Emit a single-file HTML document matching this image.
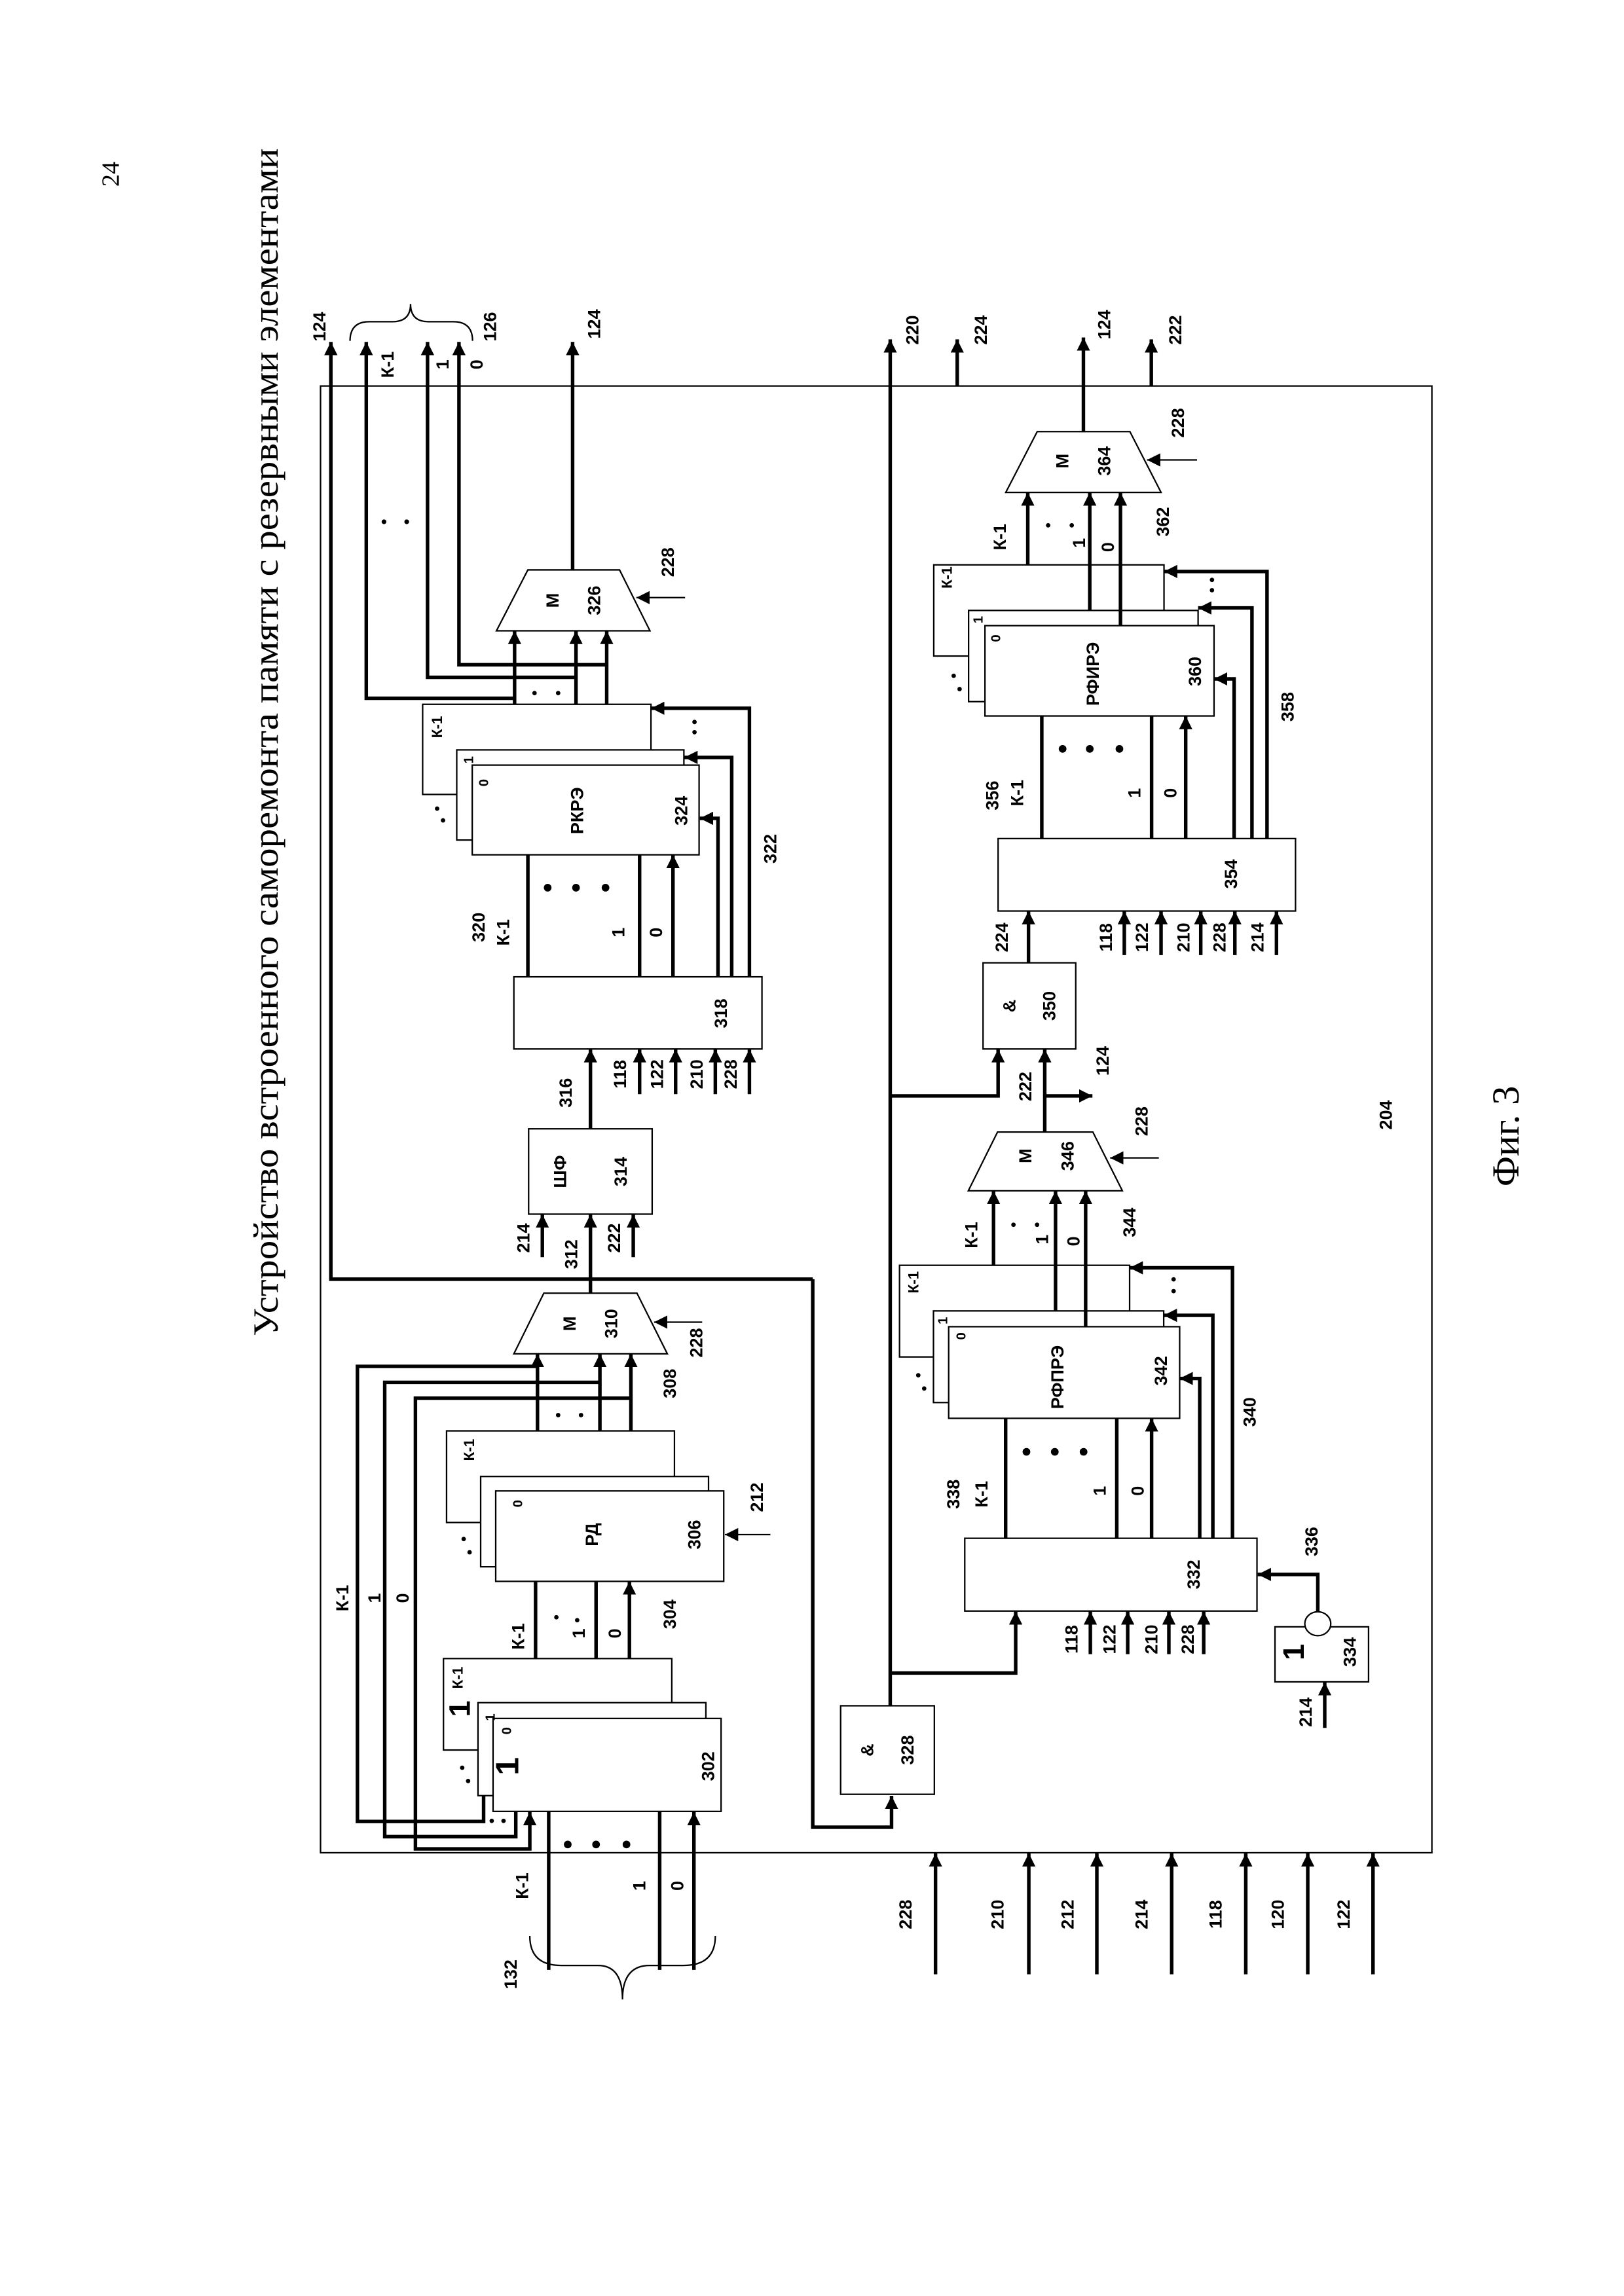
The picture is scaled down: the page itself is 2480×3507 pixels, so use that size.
<!DOCTYPE html>
<html><head><meta charset="utf-8"><style>
html,body{margin:0;padding:0;background:#fff}
svg{display:block}
text{font-family:"Liberation Sans",sans-serif;font-weight:bold;font-size:12px;text-anchor:middle;dominant-baseline:central;fill:#000}
.s{font-family:"Liberation Serif",serif;font-weight:normal}
.th{stroke:#000;stroke-width:2.4;fill:none}
.tn{stroke:#000;stroke-width:1;fill:none}
.bx{stroke:#000;stroke-width:1;fill:#fff}
</style></head><body>
<svg width="2480" height="3507" viewBox="0 0 1100 1556" xmlns="http://www.w3.org/2000/svg">
<defs>
<marker id="a" markerUnits="userSpaceOnUse" viewBox="0 0 10 10" markerWidth="9" markerHeight="9" refX="10" refY="5" orient="auto"><path d="M0,0 L10,5 L0,10z" fill="#000"/></marker>
</defs>
<rect width="1100" height="1556" fill="#fff"/>

<!-- page text -->
<text class="s" transform="translate(75,118) rotate(-90)" style="font-size:17px">24</text>
<text class="s" transform="translate(180,503) rotate(-90)" style="font-size:24px" textLength="805" lengthAdjust="spacingAndGlyphs">Устройство встроенного саморемонта памяти с резервными элементами</text>
<text class="s" transform="translate(1020,770) rotate(-90)" style="font-size:26px">Фиг. 3</text>

<!-- outer box -->
<rect x="217" y="261.6" width="753" height="994" class="tn"/>

<!-- ===== upper section ===== -->
<path class="th" d="M550.5,866.9 H224 V231.7" marker-end="url(#a)"/>
<path class="th" d="M550.5,866.9 V1238.3 H603.9 V1217" marker-end="url(#a)"/>

<path class="tn" d="M237,231 Q237,218 250,218 L266,218 Q278,218 278,206 Q278,218 290,218 L307,218 Q320,218 320,231"/>

<path class="th" d="M348.5,473.2 H248 V231.7" marker-end="url(#a)"/>
<path class="th" d="M390.1,459 H289.5 V231.7" marker-end="url(#a)"/>
<path class="th" d="M410.9,450.5 H310.8 V231.7" marker-end="url(#a)"/>
<path class="th" d="M348.5,477.3 V427.5" marker-end="url(#a)"/>
<path class="th" d="M390.1,508.2 V427.5" marker-end="url(#a)"/>
<path class="th" d="M410.9,518.5 V427.5" marker-end="url(#a)"/>
<circle cx="260" cy="353.6" r="1.6"/><circle cx="275.4" cy="353.6" r="1.6"/>
<circle cx="362" cy="469.7" r="1.5"/><circle cx="378" cy="469.7" r="1.5"/>

<polygon points="357.5,386.2 419.6,386.2 440.2,427.5 336.2,427.5" class="bx"/>
<path class="th" d="M387.8,386.2 V231.7" marker-end="url(#a)"/>
<path class="tn" d="M464,405 H431" marker-end="url(#a)"/>

<rect x="286.2" y="477.3" width="154.7" height="61.1" class="bx"/>
<rect x="309.3" y="508.2" width="153.9" height="61.1" class="bx"/>
<rect x="319.8" y="518.5" width="153.7" height="60.8" class="bx"/>
<path class="th" d="M507.6,662 V480 H441" marker-end="url(#a)"/>
<path class="th" d="M495.6,662 V513.3 H463.5" marker-end="url(#a)"/>
<path class="th" d="M486.3,662 V554.6 H474" marker-end="url(#a)"/>
<circle cx="470.4" cy="489.3" r="1.5"/><circle cx="470.4" cy="496.2" r="1.5"/>
<circle cx="296" cy="548" r="1.5"/><circle cx="300" cy="556" r="1.5"/>
<path class="th" d="M357.5,662 V579.3"/>
<path class="th" d="M433.2,662 V579.3"/>
<path class="th" d="M455.8,662 V579.3" marker-end="url(#a)"/>
<circle cx="370.9" cy="601.6" r="2.6"/><circle cx="390.1" cy="601.6" r="2.6"/><circle cx="410.1" cy="601.6" r="2.6"/>

<rect x="348" y="662" width="168.1" height="48.9" class="bx"/>
<path class="th" d="M433.2,741.5 V711" marker-end="url(#a)"/>
<path class="th" d="M457.6,741.5 V711" marker-end="url(#a)"/>
<path class="th" d="M484.5,741.5 V711" marker-end="url(#a)"/>
<path class="th" d="M507.6,741.5 V711" marker-end="url(#a)"/>
<path class="th" d="M399.9,765 V711" marker-end="url(#a)"/>

<rect x="358" y="765" width="83.7" height="57.8" class="bx"/>
<path class="th" d="M367.3,852 V823" marker-end="url(#a)"/>
<path class="th" d="M399.9,876.4 V823" marker-end="url(#a)"/>
<path class="th" d="M428.9,852 V823" marker-end="url(#a)"/>

<polygon points="368.3,876.4 431.4,876.4 452,917.5 348,917.5" class="bx"/>
<path class="tn" d="M475.6,896 H443" marker-end="url(#a)"/>
<path class="th" d="M364,969.7 V917.5" marker-end="url(#a)"/>
<path class="th" d="M406.3,1000.6 V917.5" marker-end="url(#a)"/>
<path class="th" d="M427.3,1010.4 V917.5" marker-end="url(#a)"/>
<circle cx="378" cy="959" r="1.5"/><circle cx="393.5" cy="959" r="1.5"/>
<path class="th" d="M364,926 H242 V1234.4 H327.5 V1217"/>
<path class="th" d="M406.3,936.8 H260.5 V1244.7 H349.3 V1228"/>
<path class="th" d="M427.3,947.5 H281.3 V1253 H358.8 V1228" marker-end="url(#a)"/>

<rect x="302.4" y="969.7" width="154.4" height="62.1" class="bx"/>
<rect x="325.5" y="1000.6" width="154.4" height="61.2" class="bx"/>
<rect x="335.7" y="1010.4" width="154.5" height="61.3" class="bx"/>
<path class="tn" d="M521.8,1040 H491" marker-end="url(#a)"/>
<circle cx="314" cy="1043" r="1.5"/><circle cx="318" cy="1052" r="1.5"/>
<path class="th" d="M362.7,1124 V1071.7"/>
<path class="th" d="M403.7,1154 V1071.7"/>
<path class="th" d="M426.3,1164.6 V1071.7" marker-end="url(#a)"/>
<circle cx="376.8" cy="1096" r="1.5"/><circle cx="390.9" cy="1098" r="1.5"/>

<rect x="300.3" y="1124" width="154.7" height="62" class="bx"/>
<rect x="323.7" y="1153.9" width="154.4" height="63" class="bx"/>
<rect x="333.9" y="1164.6" width="154.5" height="63" class="bx"/>
<circle cx="313" cy="1198" r="1.5"/><circle cx="317" cy="1207" r="1.5"/>
<circle cx="333" cy="1234" r="1.5"/><circle cx="341" cy="1234" r="1.5"/>
<path class="th" d="M371.6,1335 V1227.6"/>
<path class="th" d="M446.8,1335 V1227.6"/>
<path class="th" d="M470,1335 V1228" marker-end="url(#a)"/>
<circle cx="384.5" cy="1250" r="2.6"/><circle cx="403.7" cy="1250" r="2.6"/><circle cx="424.3" cy="1250" r="2.6"/>
<path class="tn" d="M358.8,1312 Q358.8,1332 380,1332 L405,1332 Q421.6,1332 421.6,1355 Q421.6,1332 440,1332 L463,1332 Q484.5,1332 484.5,1312"/>

<rect x="569.4" y="1156" width="63.5" height="60" class="bx"/>

<!-- ===== lower section ===== -->
<path class="th" d="M603,1156 V230" marker-end="url(#a)"/>
<path class="th" d="M603,1133.8 H688 V1092" marker-end="url(#a)"/>
<path class="th" d="M603,742.7 H676.1 V711" marker-end="url(#a)"/>
<path class="th" d="M648.4,261.6 V230" marker-end="url(#a)"/>
<path class="th" d="M779.9,261.6 V230" marker-end="url(#a)"/>

<path class="th" d="M633.7,1338 V1256" marker-end="url(#a)"/>
<path class="th" d="M696.9,1338 V1256" marker-end="url(#a)"/>
<path class="th" d="M743,1338 V1256" marker-end="url(#a)"/>
<path class="th" d="M793.7,1338 V1256" marker-end="url(#a)"/>
<path class="th" d="M843.9,1338 V1256" marker-end="url(#a)"/>
<path class="th" d="M885.9,1338 V1256" marker-end="url(#a)"/>
<path class="th" d="M930.1,1338 V1256" marker-end="url(#a)"/>

<rect x="653.5" y="1042.5" width="198" height="49.3" class="bx"/>
<path class="th" d="M738.6,1121 V1092" marker-end="url(#a)"/>
<path class="th" d="M763.9,1121 V1092" marker-end="url(#a)"/>
<path class="th" d="M791.8,1121 V1092" marker-end="url(#a)"/>
<path class="th" d="M815.4,1121 V1092" marker-end="url(#a)"/>
<rect x="863.7" y="1102.5" width="63.4" height="37.3" class="bx"/>
<ellipse cx="892.7" cy="1100.4" rx="8.8" ry="8.1" class="bx"/>
<path class="th" d="M892.7,1092.3 V1067 H852" marker-end="url(#a)"/>
<path class="th" d="M897.4,1171 V1140" marker-end="url(#a)"/>

<rect x="609.3" y="857.5" width="155.9" height="62.1" class="bx"/>
<rect x="632.3" y="888.4" width="156" height="62.1" class="bx"/>
<rect x="642.6" y="899.1" width="156.5" height="62.1" class="bx"/>
<circle cx="622" cy="932" r="1.5"/><circle cx="626" cy="941" r="1.5"/>
<path class="th" d="M681.2,1042.5 V961.2"/>
<path class="th" d="M756.5,1042.5 V961.2"/>
<path class="th" d="M780.1,1042.5 V961.2" marker-end="url(#a)"/>
<circle cx="695.3" cy="983.9" r="2.6"/><circle cx="714.5" cy="983.9" r="2.6"/><circle cx="734" cy="983.9" r="2.6"/>
<path class="th" d="M812.7,1042.5 V934.2 H799.1" marker-end="url(#a)"/>
<path class="th" d="M821.6,1042.5 V891.4 H788.3" marker-end="url(#a)"/>
<path class="th" d="M834.9,1042.5 V859.2 H765.2" marker-end="url(#a)"/>
<circle cx="795" cy="867" r="1.5"/><circle cx="795" cy="875" r="1.5"/>

<polygon points="675.7,767.2 740.3,767.2 760.3,807 655.9,807" class="bx"/>
<path class="tn" d="M785,784.7 H752" marker-end="url(#a)"/>
<path class="th" d="M673,857.5 V807" marker-end="url(#a)"/>
<path class="th" d="M715,888.4 V807" marker-end="url(#a)"/>
<path class="th" d="M735.4,899.1 V807" marker-end="url(#a)"/>
<circle cx="686.5" cy="830" r="1.5"/><circle cx="702.5" cy="830" r="1.5"/>
<path class="th" d="M707.7,767.2 V711" marker-end="url(#a)"/>
<path class="th" d="M707.7,742.7 H740" marker-end="url(#a)"/>

<rect x="665.9" y="652.5" width="62.8" height="58.4" class="bx"/>
<path class="th" d="M696.7,652.5 V617.4" marker-end="url(#a)"/>

<rect x="676.1" y="568.3" width="201.5" height="49.1" class="bx"/>
<path class="th" d="M761.6,647.3 V617.4" marker-end="url(#a)"/>
<path class="th" d="M786.5,647.3 V617.4" marker-end="url(#a)"/>
<path class="th" d="M813.4,647.3 V617.4" marker-end="url(#a)"/>
<path class="th" d="M836.5,647.3 V617.4" marker-end="url(#a)"/>
<path class="th" d="M864.7,647.3 V617.4" marker-end="url(#a)"/>

<rect x="632.5" y="382.8" width="156" height="61.8" class="bx"/>
<rect x="656.1" y="413.7" width="155.5" height="61.8" class="bx"/>
<rect x="667.2" y="424" width="155.2" height="61.2" class="bx"/>
<circle cx="646" cy="458" r="1.5"/><circle cx="650" cy="467" r="1.5"/>
<path class="th" d="M705.7,568.3 V485.2"/>
<path class="th" d="M780.1,568.3 V485.2"/>
<path class="th" d="M803.2,568.3 V485.2" marker-end="url(#a)"/>
<circle cx="719.8" cy="507.5" r="2.6"/><circle cx="738.2" cy="507.5" r="2.6"/><circle cx="758.3" cy="507.5" r="2.6"/>
<path class="th" d="M836,568.3 V460.1 H822.4" marker-end="url(#a)"/>
<path class="th" d="M848.1,568.3 V412 H811.6" marker-end="url(#a)"/>
<path class="th" d="M858.3,568.3 V387.3 H788.5" marker-end="url(#a)"/>
<circle cx="821" cy="393" r="1.5"/><circle cx="821" cy="400" r="1.5"/>

<polygon points="702.6,292.5 765.4,292.5 786.5,333.7 681.3,333.7" class="bx"/>
<path class="tn" d="M810.9,311.7 H777" marker-end="url(#a)"/>
<path class="th" d="M696.2,382.8 V333.7" marker-end="url(#a)"/>
<path class="th" d="M738.2,413.7 V333.7" marker-end="url(#a)"/>
<path class="th" d="M759,424 V333.7" marker-end="url(#a)"/>
<circle cx="710" cy="356" r="1.5"/><circle cx="726" cy="356" r="1.5"/>
<path class="th" d="M733.9,292.5 V228.7" marker-end="url(#a)"/>

<!-- ===== labels ===== -->
<g>
<text transform="translate(216.4,221.4) rotate(-90)">124</text>
<text transform="translate(262.6,247.1) rotate(-90)">К-1</text>
<text transform="translate(299.8,247) rotate(-90)">1</text>
<text transform="translate(322.9,247) rotate(-90)">0</text>
<text transform="translate(331.9,221.4) rotate(-90)">126</text>
<text transform="translate(402.4,219.6) rotate(-90)">124</text>
<text transform="translate(374.2,406.9) rotate(-90)">М</text>
<text transform="translate(402.4,406.9) rotate(-90)">326</text>
<text transform="translate(452.5,381) rotate(-90)">228</text>
<text transform="translate(296,492.7) rotate(-90)" style="font-size:10px">К-1</text>
<text transform="translate(317.8,515) rotate(-90)" style="font-size:9px">1</text>
<text transform="translate(328,530.5) rotate(-90)" style="font-size:9px">0</text>
<text transform="translate(390.9,549.4) rotate(-90)">РКРЭ</text>
<text transform="translate(461.5,549.4) rotate(-90)">324</text>
<text transform="translate(521.8,575.2) rotate(-90)">322</text>
<text transform="translate(324.2,628.4) rotate(-90)">320</text>
<text transform="translate(340.8,631.9) rotate(-90)">К-1</text>
<text transform="translate(419,631.9) rotate(-90)">1</text>
<text transform="translate(444.3,631.9) rotate(-90)">0</text>
<text transform="translate(488.4,686.8) rotate(-90)">318</text>
<text transform="translate(383.2,740.6) rotate(-90)">316</text>
<text transform="translate(420,728) rotate(-90)">118</text>
<text transform="translate(445,728) rotate(-90)">122</text>
<text transform="translate(472,728) rotate(-90)">210</text>
<text transform="translate(495,728) rotate(-90)">228</text>
<text transform="translate(379.3,794) rotate(-90)">ШФ</text>
<text transform="translate(420.4,794) rotate(-90)">314</text>
<text transform="translate(354.5,839) rotate(-90)">214</text>
<text transform="translate(387,850) rotate(-90)">312</text>
<text transform="translate(416,839) rotate(-90)">222</text>
<text transform="translate(385.8,897) rotate(-90)">М</text>
<text transform="translate(414,897) rotate(-90)">310</text>
<text transform="translate(471.7,910) rotate(-90)">228</text>
<text transform="translate(453.8,937.6) rotate(-90)">308</text>
<text transform="translate(231.8,1083) rotate(-90)">К-1</text>
<text transform="translate(253.6,1083) rotate(-90)">1</text>
<text transform="translate(272.8,1083) rotate(-90)">0</text>
<text transform="translate(317.8,982.6) rotate(-90)" style="font-size:10px">К-1</text>
<text transform="translate(351.1,1019) rotate(-90)" style="font-size:9px">0</text>
<text transform="translate(401,1040) rotate(-90)">РД</text>
<text transform="translate(470.4,1040) rotate(-90)">306</text>
<text transform="translate(512.8,1014.7) rotate(-90)">212</text>
<text transform="translate(351.1,1109) rotate(-90)">К-1</text>
<text transform="translate(392,1107) rotate(-90)">1</text>
<text transform="translate(416.5,1107) rotate(-90)">0</text>
<text transform="translate(453.8,1094) rotate(-90)">304</text>
<text transform="translate(310,1137) rotate(-90)" style="font-size:10px">К-1</text>
<text transform="translate(311.3,1158) rotate(-90)" style="font-size:20px">1</text>
<text transform="translate(332.4,1163.8) rotate(-90)" style="font-size:9px">1</text>
<text transform="translate(343.5,1173) rotate(-90)" style="font-size:9px">0</text>
<text transform="translate(343.5,1197) rotate(-90)" style="font-size:22px">1</text>
<text transform="translate(479.6,1197) rotate(-90)">302</text>
<text transform="translate(353.7,1278) rotate(-90)">К-1</text>
<text transform="translate(433.2,1278) rotate(-90)">1</text>
<text transform="translate(458.8,1278) rotate(-90)">0</text>
<text transform="translate(346,1338) rotate(-90)">132</text>
<text transform="translate(587.6,1186) rotate(-90)">&amp;</text>
<text transform="translate(614.7,1186) rotate(-90)">328</text>

<text transform="translate(618,223.6) rotate(-90)">220</text>
<text transform="translate(664.5,223.6) rotate(-90)">224</text>
<text transform="translate(748,220) rotate(-90)">124</text>
<text transform="translate(796.2,223.6) rotate(-90)">222</text>
<text transform="translate(719.8,312.4) rotate(-90)">М</text>
<text transform="translate(748,312.4) rotate(-90)">364</text>
<text transform="translate(798,286.6) rotate(-90)">228</text>
<text transform="translate(677.4,363.9) rotate(-90)">К-1</text>
<text transform="translate(731,368) rotate(-90)">1</text>
<text transform="translate(750.6,370.8) rotate(-90)">0</text>
<text transform="translate(787.8,353.6) rotate(-90)">362</text>
<text transform="translate(641.5,391.4) rotate(-90)" style="font-size:10px">К-1</text>
<text transform="translate(663,420) rotate(-90)" style="font-size:9px">1</text>
<text transform="translate(674.9,432.6) rotate(-90)" style="font-size:9px">0</text>
<text transform="translate(740.3,456.7) rotate(-90)">РФИРЭ</text>
<text transform="translate(809.6,455) rotate(-90)">360</text>
<text transform="translate(872.4,479) rotate(-90)">358</text>
<text transform="translate(672.3,539.1) rotate(-90)">356</text>
<text transform="translate(689,537.4) rotate(-90)">К-1</text>
<text transform="translate(768.5,537.4) rotate(-90)">1</text>
<text transform="translate(792.9,537.4) rotate(-90)">0</text>
<text transform="translate(834,592.3) rotate(-90)">354</text>
<text transform="translate(678.7,635.3) rotate(-90)">224</text>
<text transform="translate(749.3,635.3) rotate(-90)">118</text>
<text transform="translate(773.7,635.3) rotate(-90)">122</text>
<text transform="translate(801.9,635.3) rotate(-90)">210</text>
<text transform="translate(826.3,635.3) rotate(-90)">228</text>
<text transform="translate(851.9,635.3) rotate(-90)">214</text>
<text transform="translate(683.8,681.7) rotate(-90)">&amp;</text>
<text transform="translate(710.8,681.7) rotate(-90)">350</text>
<text transform="translate(694.7,736.3) rotate(-90)">222</text>
<text transform="translate(747,719) rotate(-90)">124</text>
<text transform="translate(694.7,783.4) rotate(-90)">М</text>
<text transform="translate(723.2,783.4) rotate(-90)">346</text>
<text transform="translate(773.4,759.9) rotate(-90)">228</text>
<text transform="translate(938.8,755.6) rotate(-90)">204</text>
<text transform="translate(658.1,837) rotate(-90)">К-1</text>
<text transform="translate(706,840) rotate(-90)">1</text>
<text transform="translate(727.3,841.2) rotate(-90)">0</text>
<text transform="translate(765.2,828.4) rotate(-90)">344</text>
<text transform="translate(618.8,869) rotate(-90)" style="font-size:10px">К-1</text>
<text transform="translate(639,895) rotate(-90)" style="font-size:9px">1</text>
<text transform="translate(651.3,905.5) rotate(-90)" style="font-size:9px">0</text>
<text transform="translate(716.4,933.3) rotate(-90)">РФПРЭ</text>
<text transform="translate(786.4,929) rotate(-90)">342</text>
<text transform="translate(846.6,956.9) rotate(-90)">340</text>
<text transform="translate(645.9,1012.6) rotate(-90)">338</text>
<text transform="translate(664.9,1012.6) rotate(-90)">К-1</text>
<text transform="translate(744.9,1010.4) rotate(-90)">1</text>
<text transform="translate(770.7,1010.4) rotate(-90)">0</text>
<text transform="translate(808.6,1067) rotate(-90)">332</text>
<text transform="translate(888.6,1044.7) rotate(-90)">336</text>
<text transform="translate(725.9,1111) rotate(-90)">118</text>
<text transform="translate(751.7,1111) rotate(-90)">122</text>
<text transform="translate(780.1,1111) rotate(-90)">210</text>
<text transform="translate(804.6,1111) rotate(-90)">228</text>
<text transform="translate(876.4,1119.6) rotate(-90)" style="font-size:20px">1</text>
<text transform="translate(914.4,1119.6) rotate(-90)">334</text>
<text transform="translate(884.6,1160.3) rotate(-90)">214</text>
<text transform="translate(613.4,1297.4) rotate(-90)">228</text>
<text transform="translate(675.7,1297.4) rotate(-90)">210</text>
<text transform="translate(723.2,1297.4) rotate(-90)">212</text>
<text transform="translate(773.4,1297.4) rotate(-90)">214</text>
<text transform="translate(823.5,1297.4) rotate(-90)">118</text>
<text transform="translate(865.6,1297.4) rotate(-90)">120</text>
<text transform="translate(910.3,1297.4) rotate(-90)">122</text>
</g>
</svg>
</body></html>
